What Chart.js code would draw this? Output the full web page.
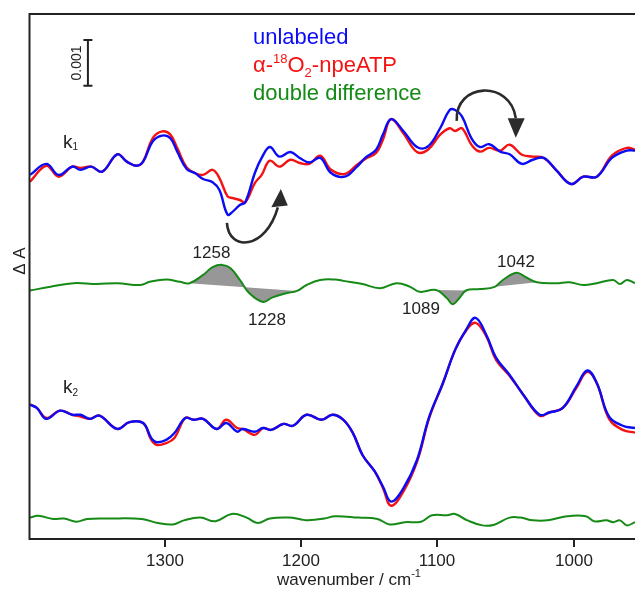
<!DOCTYPE html>
<html>
<head>
<meta charset="utf-8">
<script src="https://cdn.jsdelivr.net/npm/chart.js@4.4.1/dist/chart.umd.min.js"></script>
<style>
  html, body { margin: 0; padding: 0; background: #fff; }
  #wrap { width: 635px; height: 589px; }
</style>
</head>
<body>
<div id="wrap"><canvas id="spec" width="635" height="589"></canvas></div>
<script>
// Spectra: wavenumber (cm-1) and dA in units of 1e-3
// each trace is stored around its own baseline, offsets are below

// k1 pair
const WN_K1 = [1399, 1387, 1378, 1368, 1362, 1354, 1346, 1335, 1328, 1321,
    1316, 1309, 1302, 1296, 1291, 1284, 1278, 1272, 1265, 1260,
    1254, 1250, 1245, 1241, 1234, 1229, 1223, 1216, 1208, 1201,
    1194, 1186, 1178, 1168, 1159, 1153, 1145, 1140, 1134, 1125,
    1115, 1107, 1098, 1091, 1087, 1082, 1075, 1069, 1062, 1054,
    1047, 1038, 1030, 1022, 1013, 1002, 993, 983, 972, 961, 955];
const K1_UNLABELED = [-0.22, 0.02, -0.22, -0.04, -0.11, -0.04, -0.15, 0.23, 0.07, -0.02,
    0.07, 0.51, 0.64, 0.58, 0.29, -0.09, -0.18, -0.31, -0.38, -0.55,
    -1.09, -1.02, -0.88, -0.82, -0.18, 0.15, 0.39, 0.18, 0.28, 0.15,
    0.05, 0.15, -0.18, -0.26, -0.04, 0.15, 0.33, 0.66, 1.00, 0.74,
    0.39, 0.40, 0.80, 1.20, 1.20, 1.06, 0.58, 0.39, 0.45, 0.29,
    0.23, 0.02, 0.11, 0.15, -0.11, -0.42, -0.26, -0.26, 0.15, 0.31, 0.31];
const K1_LABELED = [-0.37, -0.02, -0.26, -0.04, -0.07, -0.04, -0.15, 0.23, 0.07, -0.02,
    0.07, 0.58, 0.73, 0.66, 0.37, -0.06, -0.18, -0.22, -0.11, -0.29,
    -0.69, -0.73, -0.77, -0.82, -0.40, -0.22, 0.09, -0.04, 0.11, 0.04,
    0.02, 0.20, -0.11, -0.20, 0.00, 0.13, 0.26, 0.55, 1.00, 0.69,
    0.28, 0.33, 0.66, 0.80, 0.74, 0.80, 0.44, 0.29, 0.37, 0.31,
    0.44, 0.22, 0.18, 0.15, -0.11, -0.42, -0.26, -0.26, 0.20, 0.37, 0.33];

// k1 double difference
const WN_DD1 = [1399, 1384, 1367, 1350, 1335, 1318, 1311, 1299, 1289, 1282,
    1272, 1265, 1258, 1252, 1245, 1238, 1228, 1221, 1211, 1203,
    1196, 1186, 1175, 1169, 1155, 1142, 1130, 1120, 1113, 1101,
    1093, 1089, 1084, 1079, 1069, 1058, 1052, 1042, 1035, 1027,
    1013, 1003, 993, 983, 971, 966, 961, 955];
const DD1 = [-0.12, -0.04, 0.04, 0.02, 0.04, 0.00, 0.07, 0.12, 0.07, 0.04,
    0.22, 0.39, 0.44, 0.37, 0.11, -0.18, -0.37, -0.27, -0.18, -0.13,
    0.00, 0.11, 0.12, 0.09, 0.02, -0.07, 0.04, -0.04, -0.15, -0.11,
    -0.29, -0.42, -0.29, -0.12, -0.09, -0.04, 0.11, 0.27, 0.17, 0.06,
    0.04, 0.06, 0.00, 0.04, 0.11, 0.02, 0.11, 0.04];

// k2 pair
const WN_K2 = [1399, 1394, 1387, 1377, 1368, 1362, 1355, 1348, 1335, 1326,
    1316, 1310, 1306, 1299, 1293, 1285, 1279, 1272, 1262, 1255,
    1247, 1243, 1234, 1228, 1222, 1213, 1206, 1196, 1185, 1177,
    1169, 1162, 1155, 1146, 1140, 1134, 1125, 1115, 1106, 1096,
    1087, 1079, 1072, 1064, 1057, 1047, 1037, 1025, 1018, 1008,
    998, 990, 983, 974, 964, 955];
const K2_UNLABELED = [0.33, 0.26, 0.02, 0.20, 0.11, 0.11, 0.02, 0.09, -0.20, -0.05,
    -0.07, -0.40, -0.49, -0.44, -0.29, 0.04, 0.00, 0.02, -0.20, -0.07,
    -0.26, -0.20, -0.26, -0.18, -0.22, -0.09, -0.13, 0.11, 0.00, 0.11,
    0.00, -0.29, -0.77, -1.13, -1.46, -1.79, -1.50, -0.88, 0.07, 0.80,
    1.53, 1.97, 2.23, 1.85, 1.36, 0.98, 0.55, 0.11, 0.16, 0.26,
    0.73, 1.08, 0.80, 0.07, -0.13, -0.18];
const K2_LABELED = [0.34, 0.26, 0.04, 0.20, 0.11, 0.07, 0.02, 0.09, -0.20, -0.05,
    -0.07, -0.44, -0.55, -0.51, -0.40, 0.04, 0.00, 0.02, -0.20, 0.00,
    -0.18, -0.20, -0.33, -0.18, -0.22, -0.09, -0.13, 0.11, 0.00, 0.11,
    0.00, -0.29, -0.77, -1.13, -1.49, -1.88, -1.57, -0.92, 0.04, 0.80,
    1.53, 1.95, 2.12, 1.82, 1.31, 0.96, 0.55, 0.09, 0.16, 0.26,
    0.70, 1.05, 0.80, 0.02, -0.22, -0.28];

// k2 double difference
const WN_DD2 = [1399, 1393, 1382, 1374, 1365, 1357, 1342, 1317, 1305, 1294,
    1286, 1274, 1263, 1251, 1240, 1232, 1223, 1209, 1200, 1195,
    1183, 1175, 1158, 1144, 1135, 1124, 1112, 1104, 1093, 1087,
    1078, 1067, 1059, 1047, 1039, 1030, 1019, 1005, 991, 985,
    976, 971, 966, 961, 955];
const DD2 = [0.04, 0.08, 0.01, 0.02, -0.05, 0.01, 0.02, 0.01, -0.08, -0.11,
    -0.02, 0.04, -0.04, 0.12, 0.04, -0.08, 0.02, 0.04, 0.00, -0.02,
    0.02, 0.07, 0.04, 0.01, -0.11, -0.06, -0.05, 0.09, 0.09, 0.12,
    -0.02, -0.13, -0.12, 0.04, 0.04, -0.02, -0.02, 0.07, 0.07, -0.04,
    -0.02, -0.06, -0.02, -0.13, -0.06];

// shaded bands on the k1 double difference (start, end wavenumber)
const SHADE_RANGES = [[1282, 1203], [1101, 1079], [1058, 1027]];
const PEAK_LABELS = ['1258', '1228', '1089', '1042'];
const X_TICKS = [1300, 1200, 1100, 1000];

// vertical stacking of the traces (same units as the data)
const OFFSET_K1 = 8.21;
const OFFSET_DD1 = 5.58;
const OFFSET_K2 = 2.63;
const OFFSET_DD2 = 0.45;

const BLUE = '#0b0bf5';
const RED = '#f51212';
const GREEN = '#168a16';
const INK = '#222222';
const FONT = '"Liberation Sans", Arial, sans-serif';

function toPoints(wn, vals, offset) {
    return wn.map((w, i) => ({ x: w, y: vals[i] + offset }));
}

function lineSet(label, pts, color, width, order) {
    return {
        label: label,
        data: pts,
        borderColor: color,
        borderWidth: width,
        pointRadius: 0,
        fill: false,
        tension: 0.4,
        order: order
    };
}

// gray bands: part of the curve closed by its chord
const dd1Points = toPoints(WN_DD1, DD1, OFFSET_DD1);
const shadeSets = SHADE_RANGES.map(([a, b]) => ({
    data: dd1Points.filter(p => p.x <= a && p.x >= b),
    borderWidth: 0,
    borderColor: 'rgba(0,0,0,0)',
    backgroundColor: '#979797',
    pointRadius: 0,
    fill: 'shape',
    tension: 0.4,
    order: 10
}));

function richText(ctx, x, y, parts) {
    // parts: [text, size, baseline shift]
    parts.forEach(([t, size, dy]) => {
        ctx.font = size + 'px ' + FONT;
        ctx.fillText(t, x, y + dy);
        x += ctx.measureText(t).width;
    });
}

const decor = {
    id: 'decor',
    afterDatasetsDraw(chart) {
        const { ctx, chartArea: area, scales } = chart;
        const sx = scales.x, sy = scales.y;
        const P = (w, v) => [sx.getPixelForValue(w), sy.getPixelForValue(v)];
        ctx.save();

        // frame: left, bottom, top
        ctx.strokeStyle = INK;
        ctx.lineWidth = 2;
        ctx.beginPath();
        ctx.moveTo(area.right, 14);
        ctx.lineTo(area.left - 0.5, 14);
        ctx.lineTo(area.left - 0.5, area.bottom - 1);
        ctx.lineTo(area.right, area.bottom - 1);
        ctx.stroke();

        // x ticks and labels
        ctx.fillStyle = INK;
        ctx.textAlign = 'center';
        ctx.font = '17px ' + FONT;
        X_TICKS.forEach(t => {
            const px = Math.round(sx.getPixelForValue(t));
            ctx.beginPath();
            ctx.moveTo(px, area.bottom - 1);
            ctx.lineTo(px, area.bottom + 7);
            ctx.stroke();
            ctx.fillText(String(t), px, 565.5);
        });

        // axis title with superscript
        ctx.textAlign = 'left';
        richText(ctx, 277, 585, [['wavenumber / cm', 17, 0], ['-1', 11, -8]]);

        // y title
        ctx.save();
        ctx.translate(25, 261);
        ctx.rotate(-Math.PI / 2);
        ctx.textAlign = 'center';
        ctx.font = '17px ' + FONT;
        ctx.fillText('\u0394 A', 0, 0);
        ctx.restore();

        // scale bar (0.001)
        const [bx, b0] = P(1356.5, 9.94);
        const [, b1] = P(1356.5, 10.94);
        ctx.lineWidth = 2;
        ctx.beginPath();
        ctx.moveTo(bx, b0); ctx.lineTo(bx, b1);
        ctx.moveTo(bx - 4.5, b0); ctx.lineTo(bx + 4.5, b0);
        ctx.moveTo(bx - 4.5, b1); ctx.lineTo(bx + 4.5, b1);
        ctx.stroke();
        ctx.save();
        ctx.translate(bx - 7, (b0 + b1) / 2);
        ctx.rotate(-Math.PI / 2);
        ctx.textAlign = 'center';
        ctx.font = '14px ' + FONT;
        ctx.fillText('0.001', 0, 0);
        ctx.restore();

        // legend
        ctx.textAlign = 'left';
        ctx.fillStyle = BLUE;
        richText(ctx, 253, 44, [['unlabeled', 22, 0]]);
        ctx.fillStyle = RED;
        richText(ctx, 253, 71.5, [['\u03b1-', 22, 0], ['18', 13, -9], ['O', 22, 0], ['2', 13, 5], ['-npeATP', 22, 0]]);
        ctx.fillStyle = GREEN;
        richText(ctx, 253, 100, [['double difference', 22, 0]]);

        // trace names
        ctx.fillStyle = INK;
        richText(ctx, 63, 148, [['k', 19, 0], ['1', 10, 2]]);
        richText(ctx, 63, 393, [['k', 19, 0], ['2', 10, 3]]);

        // peak labels
        ctx.textAlign = 'center';
        ctx.font = '17px ' + FONT;
        const peakPos = [[211.5, 258], [267, 325], [421, 314], [516, 267]];
        PEAK_LABELS.forEach((t, i) => ctx.fillText(t, peakPos[i][0], peakPos[i][1]));

        // curved arrows (data coordinates)
        const arrows = [
            { path: [[1254.5, 6.94], [1253.1, 6.30], [1225.9, 6.35], [1217.1, 7.28]],
              head: [[1214.9, 7.68], [1221.9, 7.28], [1209.8, 7.32]] },
            { path: [[1085.8, 9.17], [1087.3, 10.02], [1046.2, 10.07], [1042.5, 9.23]],
              head: [[1042.5, 8.80], [1048.4, 9.23], [1035.9, 9.23]] }
        ];
        ctx.strokeStyle = '#2b2b2b';
        ctx.fillStyle = '#2b2b2b';
        ctx.lineWidth = 2.6;
        arrows.forEach(a => {
            const p = a.path.map(q => P(q[0], q[1]));
            ctx.beginPath();
            ctx.moveTo(p[0][0], p[0][1]);
            ctx.bezierCurveTo(p[1][0], p[1][1], p[2][0], p[2][1], p[3][0], p[3][1]);
            ctx.stroke();
            const h = a.head.map(q => P(q[0], q[1]));
            ctx.beginPath();
            ctx.moveTo(h[0][0], h[0][1]);
            ctx.lineTo(h[1][0], h[1][1]);
            ctx.lineTo(h[2][0], h[2][1]);
            ctx.closePath();
            ctx.fill();
        });

        ctx.restore();
    }
};

const chart = new Chart(document.getElementById('spec'), {
    type: 'line',
    data: {
        datasets: [
            lineSet('k1 unlabeled', toPoints(WN_K1, K1_UNLABELED, OFFSET_K1), BLUE, 2.4, 1),
            lineSet('k1 labeled', toPoints(WN_K1, K1_LABELED, OFFSET_K1), RED, 2.4, 2),
            lineSet('k1 double difference', dd1Points, GREEN, 2, 1),
            lineSet('k2 unlabeled', toPoints(WN_K2, K2_UNLABELED, OFFSET_K2), BLUE, 2.4, 1),
            lineSet('k2 labeled', toPoints(WN_K2, K2_LABELED, OFFSET_K2), RED, 2.4, 2),
            lineSet('k2 double difference', toPoints(WN_DD2, DD2, OFFSET_DD2), GREEN, 2, 1),
            ...shadeSets
        ]
    },
    options: {
        responsive: false,
        animation: false,
        devicePixelRatio: 1,
        layout: { padding: { left: 30, right: 0, top: 14, bottom: 49 } },
        plugins: { legend: { display: false }, tooltip: { enabled: false } },
        scales: {
            x: { type: 'linear', min: 955, max: 1399, reverse: true, display: false },
            y: { type: 'linear', min: 0, max: 11.51, display: false }
        }
    },
    plugins: [decor]
});
</script>
</body>
</html>
